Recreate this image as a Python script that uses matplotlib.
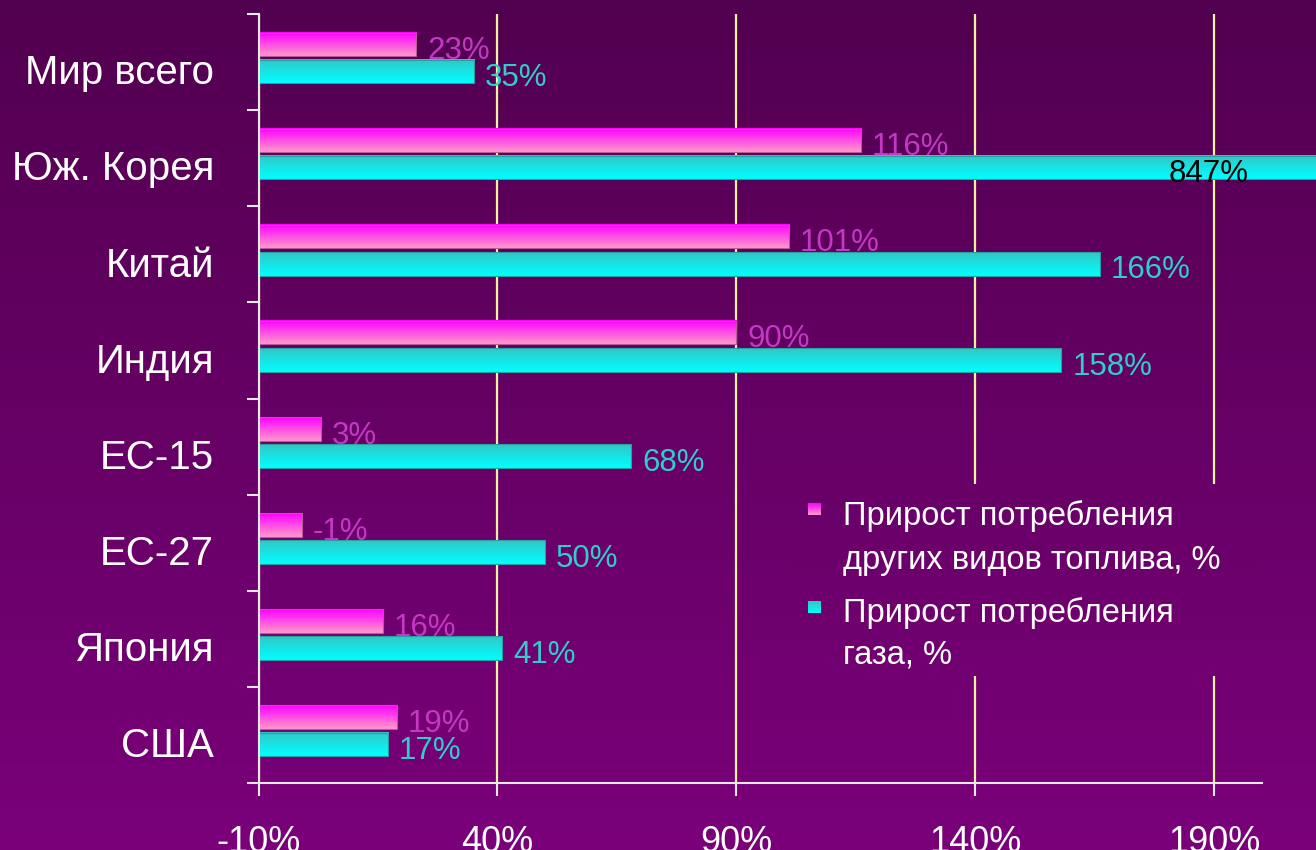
import numpy as np
import matplotlib
matplotlib.use('Agg')
import matplotlib.pyplot as plt

# ---------------- data ----------------
categories = ['Мир всего', 'Юж. Корея', 'Китай', 'Индия', 'ЕС-15', 'ЕС-27', 'Япония', 'США']
other_fuel = [23, 116, 101, 90, 3, -1, 16, 19]
gas = [35, 847, 166, 158, 68, 50, 41, 17]
series_names = ['Прирост потребления\nдругих видов топлива, %',
                'Прирост потребления\nгаза, %']
xticks = [-10, 40, 90, 140, 190]
xtick_labels = ['-10%', '40%', '90%', '140%', '190%']

plt.rcParams['font.family'] = ['Liberation Sans', 'DejaVu Sans']

W, H = 1316, 850
fig = plt.figure(figsize=(W / 100, H / 100), dpi=100)

bg_top = np.array([0x52, 0x00, 0x50]) / 255
bg_bot = np.array([0x7a, 0x00, 0x7a]) / 255


def bg_grad(f0, f1, n=256):
    t = np.linspace(f0, f1, n)[:, None]
    return (bg_top * (1 - t) + bg_bot * t)[:, None, :]


def grad(c_top, c_bot, n=64):
    t = np.linspace(0, 1, n)[:, None]
    a = np.array(matplotlib.colors.to_rgb(c_top))
    b = np.array(matplotlib.colors.to_rgb(c_bot))
    return (a * (1 - t) + b * t)[:, None, :]


def px(x0, y0, x1, y1):
    return [x0 / W, 1 - y1 / H, (x1 - x0) / W, (y1 - y0) / H]


# background
bg_ax = fig.add_axes([0, 0, 1, 1], zorder=0)
bg_ax.imshow(bg_grad(0, 1), aspect='auto', extent=(0, 1, 0, 1), origin='upper',
             interpolation='bilinear')
bg_ax.axis('off')

ax = fig.add_axes(px(258.5, 14, 1262, 783), zorder=1)
ax.set_facecolor('none')

n = len(categories)
ypos = np.arange(n)[::-1]
base = -10
h = 0.245
pink_off, cyan_off = 0.185, -0.098
xmin, xmax = -10, 200

pink_top, pink_bot = '#ff00ff', '#ff99cc'
cyan_top, cyan_bot = '#33c6c6', '#00ffff'

pink_bars = ax.barh(ypos + pink_off, np.array(other_fuel) - base, left=base, height=h,
                    facecolor='none', edgecolor='#b85a9a', lw=0.8, zorder=3)
cyan_bars = ax.barh(ypos + cyan_off, np.array(gas) - base, left=base, height=h,
                    facecolor='none', edgecolor='#2a9f9f', lw=0.8, zorder=3)

for bars, ct, cb in [(pink_bars, pink_top, pink_bot), (cyan_bars, cyan_top, cyan_bot)]:
    g = grad(ct, cb)
    for p in bars:
        p.set_clip_on(False)
        x0, y0, w, hh = p.get_x(), p.get_y(), p.get_width(), p.get_height()
        ax.imshow(g, extent=(x0, x0 + w, y0, y0 + hh), aspect='auto', origin='upper',
                  interpolation='bilinear', zorder=2.5, clip_on=False)

# value labels
for bars, vals, col in [(pink_bars, other_fuel, '#c538c5'), (cyan_bars, gas, '#33cccc')]:
    for p, v in zip(bars, vals):
        yc = p.get_y() + p.get_height() / 2
        if v > xmax:
            x, c, z = 180.5, 'black', 4
        else:
            x, c, z = v + 2.3, col, 2
        ax.text(x, yc - 0.07, f'{v}%', color=c, fontsize=22.5, va='center', ha='left', zorder=z)

ax.set_xlim(xmin, xmax)
ax.set_ylim(-0.5, n - 0.5)

for s in ['top', 'right']:
    ax.spines[s].set_visible(False)
for s in ['left', 'bottom']:
    ax.spines[s].set_color('#e8e8e8')
    ax.spines[s].set_linewidth(1.5)
    ax.spines[s].set_zorder(5)

ax.set_xticks(xticks, xtick_labels)
ax.tick_params(axis='x', colors='#e8e8e8', labelcolor='white', length=9, width=1.5,
               labelsize=26, pad=21)
ax.set_yticks(ypos - 0.075, categories)
ax.set_yticks(np.arange(-0.5, n, 1), minor=True)
ax.tick_params(axis='y', which='major', length=0, labelsize=29, labelcolor='white', pad=32)
ax.tick_params(axis='y', which='minor', length=9, width=1.5, color='#e8e8e8')

ax.set_axisbelow(True)
ax.grid(axis='x', color='#f5f5a0', lw=1.6)

# legend box covering grid lines (same gradient as background)
lb = (790, 484, 1255, 676)
lax = fig.add_axes(px(*lb), zorder=2)
lax.imshow(bg_grad(lb[1] / H, lb[3] / H), aspect='auto', extent=(0, 1, 0, 1),
           origin='upper', interpolation='bilinear')
lax.axis('off')

marker_boxes = [(808, 503, 820, 515), (808, 601, 820, 613)]
line_baselines = [(525, 569), (622, 664)]
for name, mb, bls, (ct, cb) in zip(series_names, marker_boxes, line_baselines,
                                   [(pink_top, pink_bot), (cyan_top, cyan_bot)]):
    max_ = fig.add_axes(px(*mb), zorder=3)
    max_.imshow(grad(ct, cb), aspect='auto', extent=(0, 1, 0, 1), origin='upper',
                interpolation='bilinear')
    max_.axis('off')
    for line, bl in zip(name.split('\n'), bls):
        fig.text(843 / W, 1 - bl / H, line, color='white', fontsize=23.5,
                 ha='left', va='baseline', zorder=4)

fig.savefig('out.png', dpi=100)
